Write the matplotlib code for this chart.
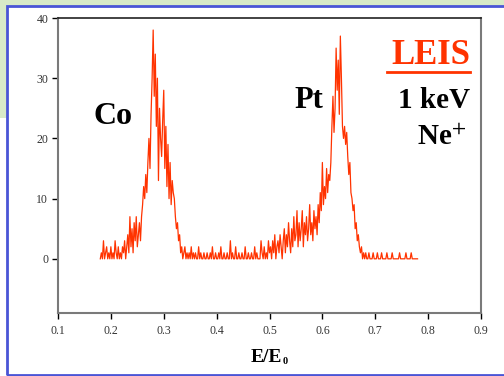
import matplotlib
matplotlib.use('Agg')
import matplotlib.pyplot as plt
import numpy as np
from matplotlib.lines import Line2D
from matplotlib.patches import Rectangle

plt.rcParams['font.family'] = ['Liberation Serif', 'DejaVu Serif']
plt.rcParams['mathtext.fontset'] = 'stix'

# LEIS spectrum: counts per channel, channels 0.002 apart in E/E0
E_START = 0.18
E_STEP = 0.002
counts = [
    0, 1, 0, 3, 0, 1, 2, 0, 1, 0,        # 0.180
    2, 0, 1, 0, 3, 1, 0, 2, 0, 1,        # 0.200
    0, 2, 1, 3, 0, 2, 4, 1, 7, 2,        # 0.220
    5, 1, 6, 3, 7, 2, 4, 6, 3, 7,        # 0.240
    9, 12, 10, 14, 11, 16, 20, 15, 24, 30,   # 0.260
    38, 27, 34, 22, 30, 13, 25, 20, 17, 23,  # 0.280  Co peak
    28, 15, 22, 12, 19, 10, 16, 9, 13, 11,   # 0.300
    10, 7, 5, 6, 3, 4, 1, 2, 0, 1,       # 0.320
    2, 0, 1, 0, 1, 0, 2, 0, 1, 0,        # 0.340
    1, 0, 0, 2, 0, 1, 0, 0, 1, 0,        # 0.360
    0, 1, 0, 0, 1, 0, 2, 0, 0, 1,        # 0.380
    0, 0, 1, 0, 2, 0, 0, 1, 0, 0,        # 0.400
    1, 0, 0, 3, 0, 1, 0, 0, 2, 0,        # 0.420
    0, 1, 0, 0, 1, 0, 0, 2, 0, 0,        # 0.440
    1, 0, 0, 1, 0, 0, 2, 0, 1, 0,        # 0.460
    0, 0, 3, 1, 0, 2, 0, 1, 0, 3,        # 0.480
    1, 2, 0, 3, 1, 4, 0, 2, 3, 1,        # 0.500
    4, 2, 0, 3, 5, 1, 4, 2, 6, 3,        # 0.520
    1, 5, 2, 7, 3, 4, 8, 2, 6, 3,        # 0.540
    5, 8, 2, 6, 4, 7, 3, 5, 9, 4,        # 0.560
    6, 3, 8, 5, 7, 4, 9, 6, 11, 8,       # 0.580
    16, 9, 12, 10, 15, 11, 14, 13, 16, 22,   # 0.600
    27, 21, 25, 35, 28, 33, 24, 37, 30, 22,  # 0.620  Pt peak
    20, 22, 19, 21, 17, 14, 16, 11, 10, 8,   # 0.640
    9, 5, 6, 3, 4, 2, 1, 2, 0, 1,        # 0.660
    0, 1, 0, 0, 1, 0, 0, 0, 1, 0,        # 0.680
    0, 0, 1, 0, 0, 0, 1, 0, 0, 0,        # 0.700
    0, 1, 0, 0, 0, 0, 1, 0, 0, 0,        # 0.720
    0, 0, 0, 1, 0, 0, 0, 0, 0, 1,        # 0.740
    0, 0, 0, 0, 1, 0, 0, 0, 0, 0,        # 0.760
    0,                                   # 0.780
]
x_ticks = [0.1, 0.2, 0.3, 0.4, 0.5, 0.6, 0.7, 0.8, 0.9]
y_ticks = [0, 10, 20, 30, 40]

energy = E_START + E_STEP * np.arange(len(counts))

W, H = 504, 376
RED = '#ff3300'


def fx(px):
    return px / W


def fy(py):
    return 1 - py / H


fig = plt.figure(figsize=(W / 100, H / 100), dpi=100)
fig.patch.set_facecolor('white')

# slide background strips (light green grid paper)
green = '#d8eac8'
fig.patches.append(Rectangle((0, fy(6)), 1, 6 / H, transform=fig.transFigure,
                             facecolor=green, edgecolor='none', zorder=0))
fig.patches.append(Rectangle((0, fy(118)), fx(7), 118 / H, transform=fig.transFigure,
                             facecolor=green, edgecolor='none', zorder=0))
for gx in range(4, W, 11):
    fig.add_artist(Line2D([fx(gx), fx(gx)], [fy(0), fy(6)], transform=fig.transFigure,
                          color='#bcd6a8', lw=0.6, zorder=0))
for gy in range(4, 118, 11):
    fig.add_artist(Line2D([0, fx(7)], [fy(gy), fy(gy)], transform=fig.transFigure,
                          color='#bcd6a8', lw=0.6, zorder=0))

# blue slide frame
fig.patches.append(Rectangle((fx(7), fy(375)), 1.0, (375 - 6) / H, transform=fig.transFigure,
                             facecolor='none', edgecolor='#4a55d6', lw=2, zorder=1))

ax = fig.add_axes([fx(58), fy(313), (481 - 58) / W, (313 - 18) / H])
ax.set_facecolor('white')
ax.plot(energy, counts, color=RED, lw=0.9)

ax.set_xlim(0.1, 0.9)
ax.set_ylim(-9, 40)
ax.set_xticks(x_ticks)
ax.set_xticklabels([f'{t:.1f}' for t in x_ticks])
ax.set_yticks(y_ticks)
ax.tick_params(axis='both', direction='out', length=4, width=1, color='black',
               labelsize=8.5, labelcolor='#333333')
ax.tick_params(axis='x', pad=5)
ax.tick_params(axis='y', pad=3)

ax.spines['top'].set_color('#222222')
ax.spines['top'].set_linewidth(1.2)
for side in ['left', 'bottom', 'right']:
    ax.spines[side].set_color('#7a7a7a')
    ax.spines[side].set_linewidth(1.5)

# axis title E/E0 with a small subscript zero
fig.text(fx(282), fy(357), 'E/E', fontsize=14, fontweight='bold', ha='right', va='center')
fig.text(fx(282.5), fy(362), '0', fontsize=7.5, fontweight='bold', ha='left', va='center')

# peak and experiment labels
fig.text(fx(113), fy(117), 'Co', fontsize=23, fontweight='bold', ha='center', va='center')
fig.text(fx(309), fy(100), 'Pt', fontsize=22, fontweight='bold', ha='center', va='center')
fig.text(fx(470), fy(55), 'LEIS', fontsize=25, fontweight='bold', color=RED,
         ha='right', va='center')
fig.add_artist(Line2D([fx(387), fx(470)], [fy(72), fy(72)], transform=fig.transFigure,
                      color=RED, lw=2))
fig.text(fx(470), fy(101), '1 keV', fontsize=21, fontweight='bold', ha='right', va='center')
fig.text(fx(466), fy(138), 'Ne$^{+}$', fontsize=21, fontweight='bold', ha='right', va='center')

fig.savefig('out.png', dpi=100)
